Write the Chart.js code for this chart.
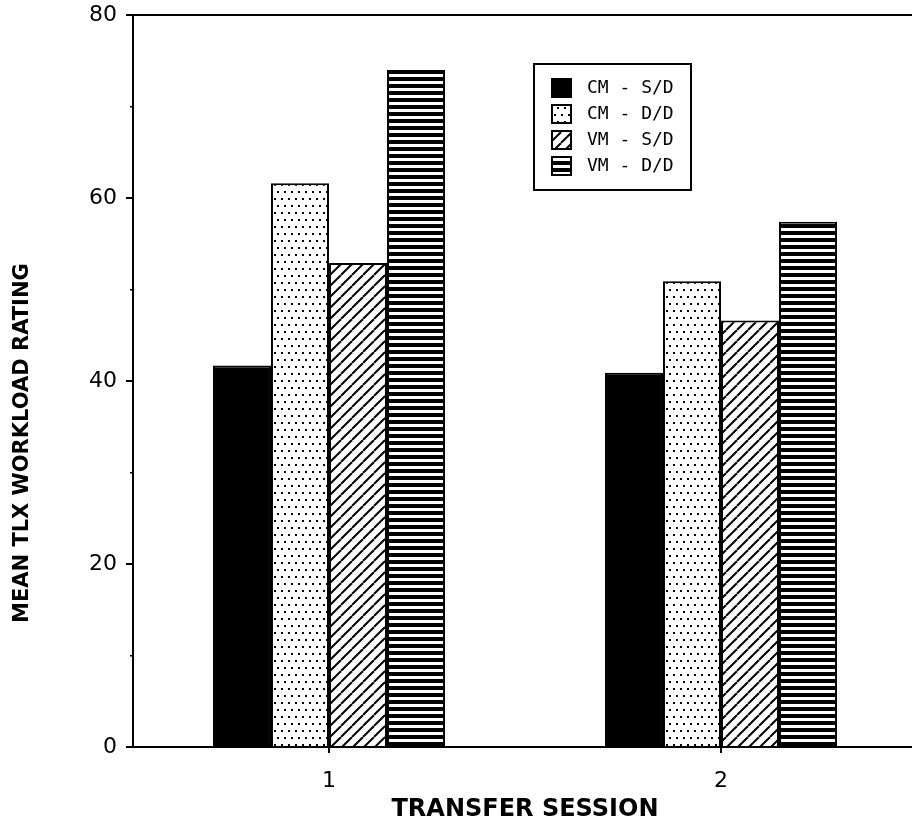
<!DOCTYPE html>
<html>
<head>
<meta charset="utf-8">
<style>
  html, body { margin: 0; padding: 0; overflow: hidden; background: #fff; }
  canvas { display: block; }
</style>
<script src="https://cdn.jsdelivr.net/npm/chart.js@4.4.1/dist/chart.umd.min.js"></script>
</head>
<body>
<canvas id="chart" width="917" height="831"></canvas>
<script>
// data
const sessions = ['1', '2'];
const seriesNames = ['CM - S/D', 'CM - D/D', 'VM - S/D', 'VM - D/D'];
const cmSD = [41.7, 40.9];
const cmDD = [61.6, 50.9];
const vmSD = [52.9, 46.6];
const vmDD = [74.0, 57.4];
const yTicks = [0, 20, 40, 60, 80];

// fill patterns
function tile(w, h, draw) {
  const c = document.createElement('canvas');
  c.width = w; c.height = h;
  const g = c.getContext('2d');
  g.fillStyle = '#fff';
  g.fillRect(0, 0, w, h);
  g.fillStyle = '#000';
  g.strokeStyle = '#000';
  draw(g);
  return g.createPattern(c, 'repeat');
}

const dots = tile(7, 14, g => {
  g.fillRect(1, 2, 2, 2);
  g.fillRect(4, 9, 2, 2);
});
const diag = tile(11, 11, g => {
  g.lineWidth = 2;
  for (let k = -1; k <= 1; k++) {
    g.beginPath();
    g.moveTo(k * 11, 11);
    g.lineTo(k * 11 + 11, 0);
    g.stroke();
  }
});
const stripes = tile(4, 7, g => {
  g.fillRect(0, 0, 4, 4);
});

const fills = ['#000', dots, diag, stripes];
const values = [cmSD, cmDD, vmSD, vmDD];

// legend box and top frame line
const decor = {
  id: 'decor',
  afterDraw(chart) {
    const ctx = chart.ctx;
    const a = chart.chartArea;
    ctx.save();
    ctx.strokeStyle = '#000';
    ctx.lineWidth = 2;
    ctx.beginPath();
    ctx.moveTo(a.left, a.top);
    ctx.lineTo(a.right, a.top);
    ctx.stroke();

    // legend
    ctx.strokeRect(534, 64, 157, 126);
    ctx.font = '18px "DejaVu Sans Mono"';
    ctx.textBaseline = 'middle';
    ctx.textAlign = 'left';
    seriesNames.forEach((name, i) => {
      const y = 88 + i * 26;
      ctx.fillStyle = fills[i];
      ctx.fillRect(552, y - 9, 19, 18);
      ctx.lineWidth = 2;
      ctx.strokeRect(552, y - 9, 19, 18);
      ctx.fillStyle = '#000';
      ctx.fillText(name, 587, y);
    });
    ctx.restore();
  }
};

new Chart(document.getElementById('chart'), {
  type: 'bar',
  data: {
    labels: sessions,
    datasets: seriesNames.map((name, i) => ({
      label: name,
      data: values[i],
      backgroundColor: fills[i],
      borderColor: '#000',
      borderWidth: 2,
      categoryPercentage: 0.592,
      barPercentage: 1
    }))
  },
  options: {
    responsive: false,
    animation: false,
    layout: { padding: { top: 15, left: 0, right: 0, bottom: 0 } },
    plugins: {
      legend: { display: false },
      tooltip: { enabled: false }
    },
    scales: {
      x: {
        grid: {
          display: true,
          drawOnChartArea: false,
          offset: false,
          color: '#000',
          tickLength: 6,
          lineWidth: 2
        },
        border: { color: '#000', width: 2 },
        ticks: {
          color: '#000',
          font: { family: 'DejaVu Sans', size: 22 },
          padding: 15
        },
        title: {
          display: true,
          text: 'TRANSFER SESSION',
          color: '#000',
          font: { family: 'DejaVu Sans', size: 24, weight: 'bold' },
          padding: { top: 0, bottom: 7 }
        },
        afterFit(s) { s.height = 84; }
      },
      y: {
        min: 0,
        max: 80,
        weight: 1,
        grid: {
          drawOnChartArea: false,
          color: '#000',
          tickLength: 7,
          lineWidth: 2
        },
        border: { color: '#000', width: 2 },
        ticks: {
          stepSize: 20,
          color: '#000',
          font: { family: 'DejaVu Sans', size: 22 },
          padding: 9,
          callback: v => yTicks.includes(v) ? String(v) : ''
        },
        title: {
          display: true,
          text: 'MEAN TLX WORKLOAD RATING' + ' '.repeat(17),
          color: '#000',
          font: { family: 'DejaVu Sans', size: 21, weight: 'bold' },
          padding: { top: 10, bottom: 0 }
        },
        afterFit(s) { s.width = 133; s.paddingTop = 0; s.paddingBottom = 0; }
      },
      yMinor: {
        position: 'left',
        min: 0,
        max: 80,
        weight: 0,
        grid: {
          drawOnChartArea: false,
          color: '#000',
          tickLength: 3,
          lineWidth: 1.5
        },
        border: { display: false },
        ticks: { stepSize: 10, display: false },
        afterFit(s) { s.width = 0; s.paddingTop = 0; s.paddingBottom = 0; }
      }
    }
  },
  plugins: [decor]
});
</script>
</body>
</html>
